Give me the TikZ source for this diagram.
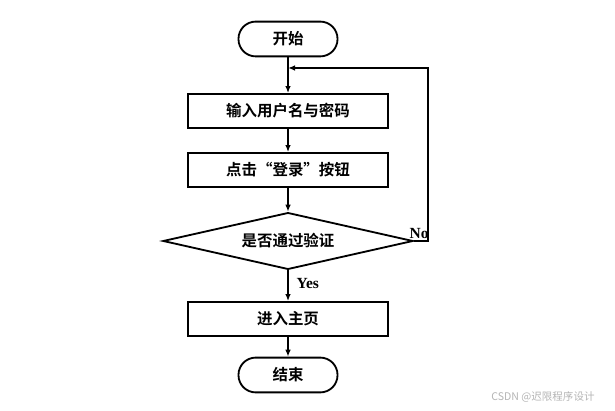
\documentclass[tikz,border=0pt]{standalone}
\usepackage{fontspec}
\usepackage{tikz}
\usetikzlibrary{arrows.meta,calc,positioning,shapes.geometric}
\newfontfamily\cjkbold{Noto Sans CJK SC Bold}
\newfontfamily\cjkthin{Noto Sans CJK SC}
\setmainfont{Liberation Serif}
\definecolor{rahmen}{HTML}{000000}
\definecolor{wasserGrau}{HTML}{B4B4B4}

\begin{document}
\begin{tikzpicture}[x=0.025cm, y=-0.025cm, line width=1.3pt,
  every node/.style={font=\cjkbold\fontsize{11}{13}\selectfont},
  ende/.style={draw=rahmen,rounded corners=0.43cm,minimum width=2.475cm,minimum height=0.87cm,inner sep=0pt},
  kasten/.style={draw=rahmen,minimum width=5cm,minimum height=0.85cm,inner sep=0pt},
  raute/.style={draw=rahmen,diamond,aspect=4.4,minimum width=6.25cm,minimum height=1.42cm,inner sep=0pt},
  pfeil/.style={-{Latex[length=5pt,width=4pt]},line width=1.3pt,rahmen}]
\useasboundingbox (0,0) rectangle (615,411);
\node[ende] (start) at (288,39) {开始};
\node[kasten] (eingabe) at (288,111) {输入用户名与密码};
\node[kasten] (klick) at (288,170) {点击“登录”按钮};
\node[raute] (pruefe) at (288,241) {是否通过验证};
\node[kasten] (heim) at (288,319) {进入主页};
\node[ende] (schluss) at (288,375) {结束};
\foreach \x/\y in {start/eingabe, eingabe/klick, klick/pruefe, pruefe/heim, heim/schluss} \draw[pfeil] (\x)--(\y);
\coordinate (oben) at (428,68);
\coordinate (treffen) at (288,68);
\draw[pfeil] (pruefe.east) -| (oben) -- (treffen);
\node[font=\bfseries\fontsize{11}{13}\selectfont,anchor=south east,inner sep=1pt] at ($(pruefe.east)+(17,0)$) {No};
\node[font=\bfseries\fontsize{11}{13}\selectfont,anchor=west] at (291,284) {Yes};
\node[font=\cjkthin\fontsize{7.5}{9}\selectfont,text=wasserGrau] (marke) at (543,397) {CSDN @迟限程序设计};
\end{tikzpicture}
\end{document}
